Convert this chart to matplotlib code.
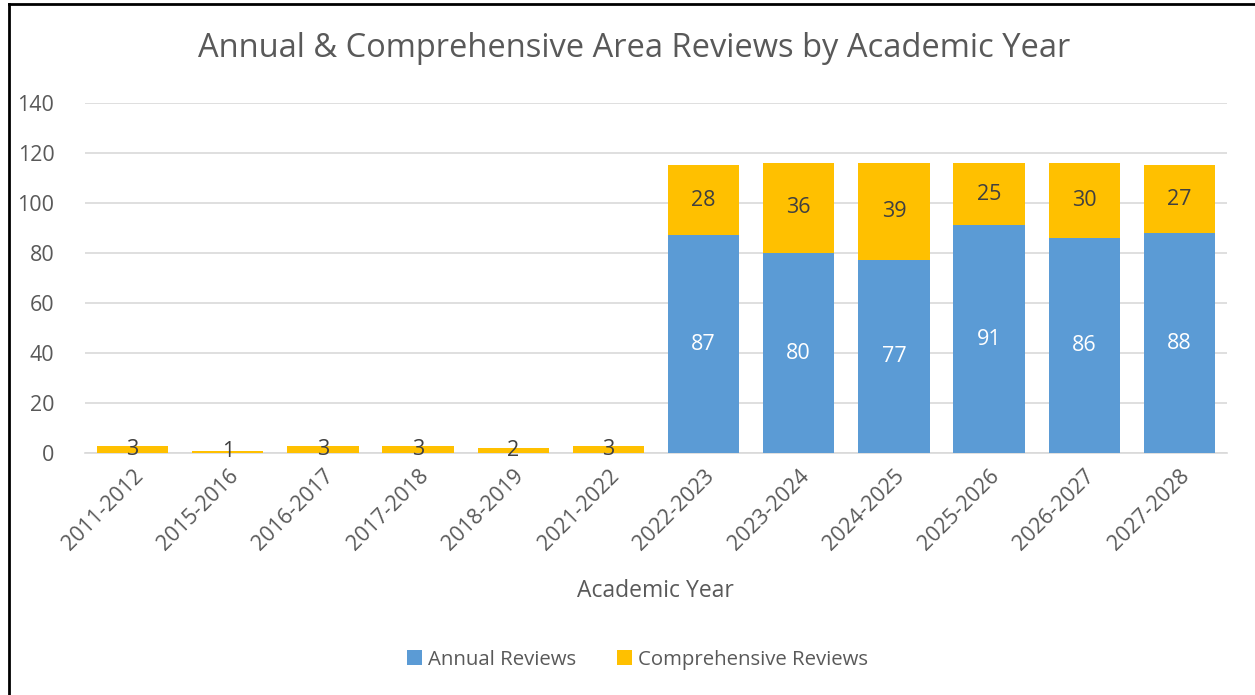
import matplotlib
matplotlib.use("Agg")
import matplotlib.pyplot as plt
import numpy as np
from matplotlib.lines import Line2D

years = ["2011-2012", "2015-2016", "2016-2017", "2017-2018", "2018-2019", "2021-2022",
         "2022-2023", "2023-2024", "2024-2025", "2025-2026", "2026-2027", "2027-2028"]
annual = [0, 0, 0, 0, 0, 0, 87, 80, 77, 91, 86, 88]
comprehensive = [3, 1, 3, 3, 2, 3, 28, 36, 39, 25, 30, 27]

plt.rcParams['font.family'] = ['Open Sans', 'DejaVu Sans']
TXT = '#595959'
BLUE = '#5B9BD5'
GOLD = '#FFC000'

fig = plt.figure(figsize=(12.55, 6.95), dpi=100)
ax = fig.add_axes([0.0677, 0.348, 0.9100, 0.504])

x = np.arange(len(years))
w = 0.75
b1 = ax.bar(x, annual, w, color=BLUE, label='Annual Reviews', zorder=3)
b2 = ax.bar(x, comprehensive, w, bottom=annual, color=GOLD, label='Comprehensive Reviews', zorder=3)

ax.bar_label(b1, labels=[str(v) if v else '' for v in annual], label_type='center',
             color='white', fontsize=15.5)
ax.bar_label(b2, labels=[str(v) for v in comprehensive], label_type='center',
             color='#404040', fontsize=15.5)

ax.set_ylim(0, 140)
ax.set_yticks(range(0, 141, 20))
ax.set_xlim(-0.5, len(years) - 0.5)
ax.set_xticks(x)
ax.set_xticklabels(years, rotation=45, ha='right', rotation_mode='anchor')
ax.tick_params(axis='both', length=0, labelsize=15.5, colors=TXT)
ax.tick_params(axis='x', pad=9)
ax.tick_params(axis='y', pad=22)
ax.grid(axis='y', color='#D9D9D9', linewidth=1.2, zorder=0)
for s in ['top', 'right', 'left']:
    ax.spines[s].set_visible(False)
ax.spines['bottom'].set_color('#D9D9D9')
ax.spines['bottom'].set_linewidth(1.2)

fig.text(0.505, 0.930, 'Annual & Comprehensive Area Reviews by Academic Year',
         ha='center', va='center', fontsize=23.5, color=TXT)
fig.text(0.522, 0.150, 'Academic Year', ha='center', va='center', fontsize=16.5, color=TXT)

leg = fig.legend(handles=[b1, b2], loc='center', bbox_to_anchor=(0.508, 0.051), ncol=2,
                 frameon=False, fontsize=14.7, handlelength=0.75, handleheight=0.75,
                 handletextpad=0.3, columnspacing=2.0)
for t in leg.get_texts():
    t.set_color(TXT)

# outer border (left and top visible)
fig.add_artist(Line2D([0.0072, 0.0072], [0, 0.994], transform=fig.transFigure, color='black', lw=2))
fig.add_artist(Line2D([0.0072, 1.0], [0.994, 0.994], transform=fig.transFigure, color='black', lw=2))

fig.savefig('out.png', dpi=100, facecolor='white')
